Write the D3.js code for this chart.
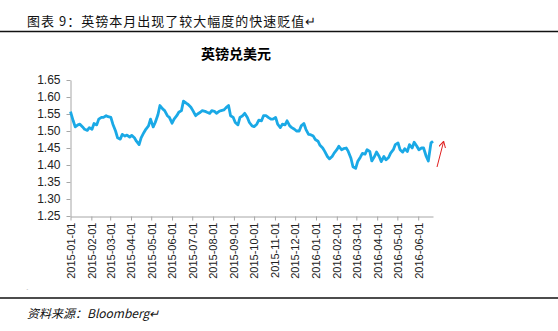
<!DOCTYPE html>
<html><head><meta charset="utf-8">
<script src="https://cdn.jsdelivr.net/npm/d3@7"></script>
<style>body{margin:0;background:#fff}svg{display:block}</style>
</head><body>
<svg id="c" width="558" height="331"></svg>
<script>
const headerText = "图表 9：英镑本月出现了较大幅度的快速贬值↵";
const chartTitle = "英镑兑美元";
const sourceText = "资料来源：Bloomberg↵";
const yTicks = [1.25,1.30,1.35,1.40,1.45,1.50,1.55,1.60,1.65];
const xTickLabels = ["2015-01-01","2015-02-01","2015-03-01","2015-04-01","2015-05-01","2015-06-01","2015-07-01","2015-08-01","2015-09-01","2015-10-01","2015-11-01","2015-12-01","2016-01-01","2016-02-01","2016-03-01","2016-04-01","2016-05-01","2016-06-01"];
const dates = ["2015-01-01","2015-01-05","2015-01-08","2015-01-12","2015-01-15","2015-01-19","2015-01-22","2015-01-26","2015-01-29",
"2015-02-02","2015-02-05","2015-02-09","2015-02-12","2015-02-16","2015-02-19","2015-02-23","2015-02-26",
"2015-03-02","2015-03-05","2015-03-09","2015-03-12","2015-03-16","2015-03-19","2015-03-23","2015-03-26","2015-03-30",
"2015-04-02","2015-04-06","2015-04-09","2015-04-13","2015-04-16","2015-04-20","2015-04-23","2015-04-27","2015-04-30",
"2015-05-04","2015-05-07","2015-05-11","2015-05-14","2015-05-18","2015-05-21","2015-05-25","2015-05-28",
"2015-06-01","2015-06-04","2015-06-08","2015-06-11","2015-06-15","2015-06-18","2015-06-22","2015-06-25","2015-06-29",
"2015-07-02","2015-07-06","2015-07-09","2015-07-13","2015-07-16","2015-07-20","2015-07-23","2015-07-27","2015-07-30",
"2015-08-03","2015-08-06","2015-08-10","2015-08-13","2015-08-17","2015-08-20","2015-08-24","2015-08-27","2015-08-31",
"2015-09-03","2015-09-07","2015-09-10","2015-09-14","2015-09-17","2015-09-21","2015-09-24","2015-09-28",
"2015-10-01","2015-10-05","2015-10-08","2015-10-12","2015-10-15","2015-10-19","2015-10-22","2015-10-26","2015-10-29",
"2015-11-02","2015-11-05","2015-11-09","2015-11-12","2015-11-16","2015-11-19","2015-11-23","2015-11-26","2015-11-30",
"2015-12-03","2015-12-07","2015-12-10","2015-12-14","2015-12-17","2015-12-21","2015-12-24","2015-12-28","2015-12-31",
"2016-01-04","2016-01-07","2016-01-11","2016-01-14","2016-01-18","2016-01-21","2016-01-25","2016-01-28",
"2016-02-01","2016-02-04","2016-02-08","2016-02-11","2016-02-15","2016-02-18","2016-02-22","2016-02-25","2016-02-29",
"2016-03-03","2016-03-07","2016-03-10","2016-03-14","2016-03-17","2016-03-21","2016-03-24","2016-03-28","2016-03-31",
"2016-04-04","2016-04-07","2016-04-11","2016-04-14","2016-04-18","2016-04-21","2016-04-25","2016-04-28",
"2016-05-02","2016-05-05","2016-05-09","2016-05-12","2016-05-16","2016-05-19","2016-05-23","2016-05-26","2016-05-30",
"2016-06-02","2016-06-06","2016-06-09","2016-06-13","2016-06-16","2016-06-20","2016-06-23"];
const gbpusd = [1.557,1.530,1.512,1.518,1.520,1.512,1.505,1.502,1.510,
1.505,1.522,1.518,1.535,1.540,1.540,1.545,1.542,
1.540,1.520,1.500,1.480,1.476,1.490,1.485,1.488,1.482,
1.487,1.480,1.470,1.460,1.480,1.495,1.505,1.515,1.535,
1.512,1.525,1.548,1.575,1.565,1.560,1.545,1.540,
1.523,1.535,1.545,1.555,1.560,1.588,1.582,1.578,1.570,
1.560,1.545,1.550,1.555,1.560,1.558,1.555,1.552,1.560,
1.558,1.552,1.558,1.560,1.562,1.568,1.575,1.545,1.540,
1.525,1.518,1.540,1.545,1.552,1.540,1.525,1.515,
1.513,1.520,1.532,1.530,1.545,1.545,1.540,1.535,1.535,
1.540,1.520,1.510,1.520,1.518,1.530,1.515,1.510,1.505,
1.500,1.500,1.515,1.522,1.505,1.490,1.489,1.485,1.475,
1.470,1.458,1.450,1.440,1.425,1.418,1.425,1.435,
1.445,1.455,1.445,1.448,1.450,1.440,1.420,1.395,1.390,
1.410,1.423,1.434,1.432,1.445,1.440,1.412,1.425,1.438,
1.425,1.410,1.425,1.415,1.422,1.435,1.445,1.460,
1.465,1.445,1.438,1.448,1.440,1.460,1.450,1.467,1.455,
1.445,1.450,1.450,1.425,1.412,1.465,1.470];

const parse = d3.timeParse("%Y-%m-%d");
const svg = d3.select("#c");
const cjk = "'Noto Sans CJK SC','Noto Sans',sans-serif";
const lat = "'Liberation Sans',Arial,sans-serif";

// header
svg.append("text").attr("x",27).attr("y",26).attr("font-family",cjk).attr("font-size",13).attr("letter-spacing",1).attr("fill","#111").text(headerText);
svg.append("line").attr("x1",0).attr("x2",558).attr("y1",31.5).attr("y2",31.5).attr("stroke","#111").attr("stroke-width",1.5);
svg.append("line").attr("x1",0).attr("x2",558).attr("y1",298).attr("y2",298).attr("stroke","#111").attr("stroke-width",1.5);
svg.append("text").attr("x",27).attr("y",318).attr("font-family",cjk).attr("font-size",12).attr("font-style","italic").attr("fill","#111").text(sourceText);
svg.append("text").attr("x",26).attr("y",294).attr("font-family",lat).attr("font-size",8).attr("fill","#999").text("`");

// title
svg.append("text").attr("x",236).attr("y",59).attr("text-anchor","middle").attr("font-family",cjk).attr("font-size",14).attr("font-weight","bold").attr("fill","#000").text(chartTitle);

const x = d3.scaleTime().domain([parse("2015-01-01"), parse("2016-06-23")]).range([70.5, 433]);
const y = d3.scaleLinear().domain([1.25,1.65]).range([216,80]);

const gy = svg.append("g").attr("transform","translate(70.5,0)")
  .call(d3.axisLeft(y).tickValues(yTicks).tickFormat(d3.format(".2f")).tickSize(4).tickSizeOuter(0));
gy.select(".domain").attr("stroke","#a6a6a6");
gy.selectAll(".tick line").attr("stroke","#a6a6a6");
gy.selectAll("text").attr("font-family",lat).attr("font-size",12).attr("fill","#222").attr("x",-10);

const gx = svg.append("g").attr("transform","translate(0,216.5)")
  .call(d3.axisBottom(x).tickValues(xTickLabels.map(parse)).tickFormat(d3.timeFormat("%Y-%m-%d")).tickSize(4).tickSizeOuter(0));
gx.select(".domain").attr("stroke","#a6a6a6");
gx.selectAll(".tick line").attr("stroke","#a6a6a6");
gx.selectAll("text").attr("font-family",lat).attr("font-size",11).attr("fill","#222")
  .attr("transform","rotate(-90)").attr("text-anchor","end").attr("x",-6).attr("y",0).attr("dy","0.35em");

const data = dates.map((d,i)=>({d:parse(d),v:gbpusd[i]}));
svg.append("path").datum(data).attr("fill","none").attr("stroke","#1aa9e6").attr("stroke-width",2.8)
  .attr("stroke-linejoin","round")
  .attr("d", d3.line().x(d=>x(d.d)).y(d=>y(d.v)));

// red arrow
const defs = svg.append("defs");
defs.append("marker").attr("id","ah").attr("viewBox","0 0 10 10").attr("refX",8).attr("refY",5)
  .attr("markerWidth",7).attr("markerHeight",7).attr("orient","auto")
  .append("path").attr("d","M0,0 L9,5 L0,10").attr("fill","none").attr("stroke","#e02020").attr("stroke-width",1.4);
svg.append("line").attr("x1",437).attr("y1",167).attr("x2",443.5).attr("y2",142)
  .attr("stroke","#e02020").attr("stroke-width",1).attr("marker-end","url(#ah)");
</script>
</body></html>
